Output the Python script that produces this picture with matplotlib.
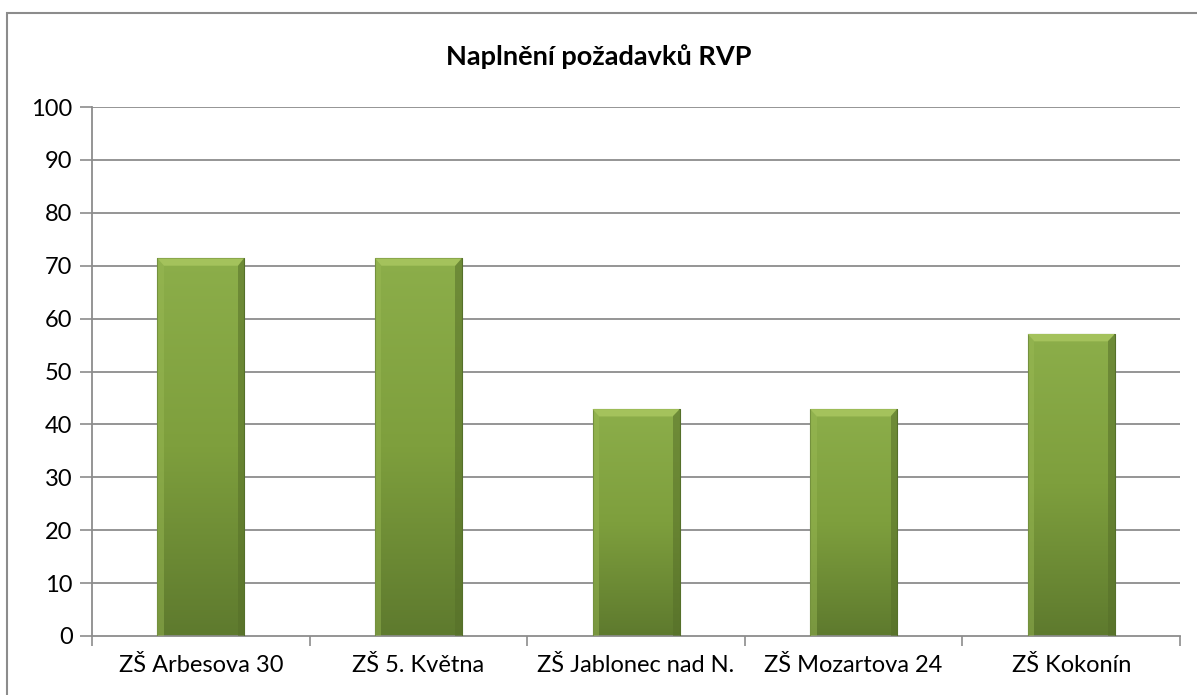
import numpy as np
import matplotlib.pyplot as plt
from matplotlib.patches import Rectangle, Polygon
from matplotlib.colors import LinearSegmentedColormap

# Data
schools = ["ZŠ Arbesova 30", "ZŠ 5. Května", "ZŠ Jablonec nad N.", "ZŠ Mozartova 24", "ZŠ Kokonín"]
values = [71.4, 71.4, 42.9, 42.9, 57.1]
yticks = [0, 10, 20, 30, 40, 50, 60, 70, 80, 90, 100]

plt.rcParams["font.family"] = ["Lato", "DejaVu Sans"]

fig = plt.figure(figsize=(11.97, 6.95), dpi=100)
ax = fig.add_axes([0.0769, 0.0849, 0.9089, 0.7611])

# outer chart border
fig.patches.append(Rectangle((7 / 1197, -0.05), 1.2, (695 - 13) / 695 + 0.05,
                             transform=fig.transFigure, fill=False,
                             edgecolor="#8c8c8c", linewidth=1.5))

x = np.arange(len(schools))
width = 0.4
ax.set_xlim(-0.5, len(schools) - 0.5)
ax.set_ylim(0, 100)

for yv in yticks[1:]:
    ax.axhline(yv, color="#8c8c8c", linewidth=1.3, zorder=0)

cmap = LinearSegmentedColormap.from_list("g", ["#5e7a2e", "#7e9f3d", "#8cae4a"])
grad = np.linspace(0, 1, 256).reshape(-1, 1)
for xi, v in zip(x, values):
    l, r = xi - width / 2, xi + width / 2
    im = ax.imshow(grad, extent=[l, r, 0, v], origin="lower", aspect="auto",
                   cmap=cmap, zorder=2)
    rect = Rectangle((l, 0), width, v, facecolor="none", edgecolor="#55702a",
                     linewidth=0.8, zorder=3)
    ax.add_patch(rect)
    im.set_clip_path(rect)
    # bevel: top lighter strip, sides shaded
    bh = 1.4
    bw = 0.03
    ax.add_patch(Polygon([[l, v], [r, v], [r - bw, v - bh], [l + bw, v - bh]],
                         closed=True, facecolor="#a4c25c", edgecolor="none", zorder=3))
    ax.add_patch(Polygon([[r, v], [r, 0], [r - bw, 0], [r - bw, v - bh]],
                         closed=True, facecolor="#566f29", edgecolor="none", alpha=0.55, zorder=3))
    ax.add_patch(Polygon([[l, v], [l, 0], [l + bw, 0], [l + bw, v - bh]],
                         closed=True, facecolor="#9aba55", edgecolor="none", alpha=0.45, zorder=3))

ax.set_yticks(yticks)
ax.set_xticks(x)
ax.set_xticklabels(schools)
ax.set_xticks(np.arange(-0.5, len(schools), 1), minor=True)
ax.tick_params(axis="x", which="major", length=0, pad=14, labelsize=17)
ax.tick_params(axis="x", which="minor", length=7, color="#8c8c8c", width=1.2)
ax.tick_params(axis="y", length=9, color="#8c8c8c", width=1.2, pad=5, labelsize=17)

for side in ["top", "right"]:
    ax.spines[side].set_visible(False)
ax.spines["left"].set_color("#8c8c8c")
ax.spines["bottom"].set_color("#8c8c8c")
ax.spines["left"].set_linewidth(1.3)
ax.spines["bottom"].set_linewidth(1.3)

fig.text(0.5, 1 - 57 / 695, "Naplnění požadavků RVP", ha="center", va="center",
         fontsize=19.5, fontweight="bold")

plt.savefig("out.png", dpi=100)
